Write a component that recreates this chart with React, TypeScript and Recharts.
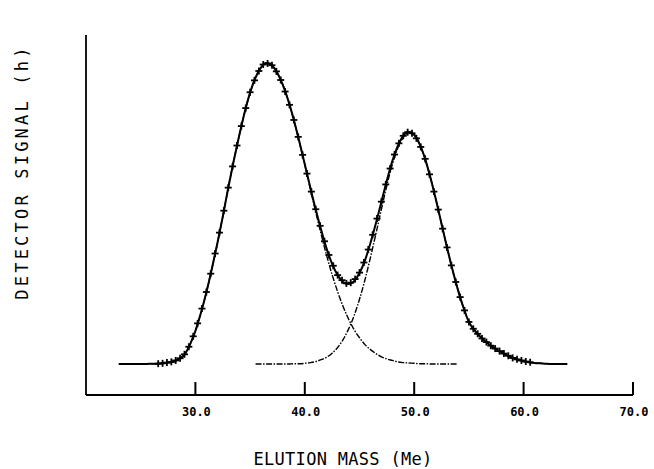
import React from "react";
import { ComposedChart, Line, Scatter, XAxis, YAxis, Label } from "recharts";

// Elution profile: measured points (+), fitted curve and the two component peaks.

const X_TICKS = [20, 22, 24, 26, 28, 30, 32, 34, 36, 38, 40, 42, 44, 46, 48, 50, 52, 54, 56, 58, 60, 62, 64, 66, 68, 70];
const X_MAJOR_TICKS = [30, 40, 50, 60, 70];
const X_LABELS = ["30.0", "40.0", "50.0", "60.0", "70.0"];

const Y_TICKS = [-0.05, 0, 0.05, 0.1, 0.15, 0.2, 0.25, 0.3, 0.35, 0.4, 0.45, 0.5, 0.55, 0.6, 0.65, 0.7, 0.75, 0.8, 0.85, 0.9, 0.95];
const Y_MAJOR_TICKS = [0.2, 0.5, 0.8];
const Y_LABEL_VALUES = [0.95, 0.8, 0.5, 0.2, -0.05];
const Y_LABELS = ["+1.10", "+.80", "+.50", "+.20", "-.10"];

// fitted curve grid
const FIT_X = [
  23, 23.5, 24, 24.5, 25, 25.5, 26, 26.5, 27, 27.5, 28, 28.5, 29, 29.5, 30, 30.5,
  31, 31.5, 32, 32.5, 33, 33.5, 34, 34.5, 35, 35.5, 36, 36.5, 37, 37.5, 38, 38.5,
  39, 39.5, 40, 40.5, 41, 41.5, 42, 42.5, 43, 43.5, 44, 44.5, 45, 45.5, 46, 46.5,
  47, 47.5, 48, 48.5, 49, 49.5, 50, 50.5, 51, 51.5, 52, 52.5, 53, 53.5, 54, 54.5,
  55, 55.5, 56, 56.5, 57, 57.5, 58, 58.5, 59, 59.5, 60, 60.5, 61, 61.5, 62, 62.5,
  63, 63.5, 64,
];
const FIT_Y = [
  0.036, 0.036, 0.036, 0.036, 0.036, 0.036, 0.037, 0.037, 0.038, 0.040, 0.043, 0.050, 0.062, 0.090, 0.128, 0.178,
  0.235, 0.300, 0.370, 0.445, 0.525, 0.600, 0.670, 0.735, 0.790, 0.832, 0.860, 0.872, 0.865, 0.844, 0.811, 0.767,
  0.714, 0.654, 0.591, 0.527, 0.465, 0.408, 0.356, 0.314, 0.283, 0.264, 0.258, 0.266, 0.289, 0.324, 0.372, 0.427,
  0.486, 0.546, 0.600, 0.642, 0.670, 0.681, 0.673, 0.647, 0.606, 0.552, 0.491, 0.425, 0.360, 0.298, 0.242, 0.193,
  0.153, 0.130, 0.113, 0.099, 0.087, 0.077, 0.068, 0.060, 0.053, 0.048, 0.044, 0.041, 0.039, 0.038, 0.037, 0.036,
  0.036, 0.036, 0.036,
];

// component 1: 23.0 .. 54.0
const PEAK1_Y = [
  0.036, 0.036, 0.036, 0.036, 0.036, 0.036, 0.037, 0.037, 0.038, 0.040, 0.043, 0.050, 0.062, 0.090, 0.128, 0.178,
  0.235, 0.300, 0.370, 0.445, 0.525, 0.600, 0.670, 0.735, 0.790, 0.832, 0.860, 0.872, 0.865, 0.844, 0.811, 0.767,
  0.713, 0.653, 0.589, 0.523, 0.458, 0.396, 0.337, 0.284, 0.237, 0.196, 0.161, 0.132, 0.109, 0.090, 0.076, 0.065,
  0.056, 0.050, 0.046, 0.042, 0.040, 0.039, 0.038, 0.037, 0.037, 0.036, 0.036, 0.036, 0.036, 0.036, 0.036,
];

// component 2: 35.5 .. 64.0
const PEAK2_Y = [
  0.036, 0.036, 0.036, 0.036, 0.036, 0.036, 0.036, 0.037, 0.037,
  0.038, 0.040, 0.043, 0.048, 0.055, 0.066, 0.082, 0.104, 0.133, 0.170,
  0.216, 0.270, 0.332, 0.398, 0.466, 0.532, 0.590, 0.636, 0.666, 0.678,
  0.671, 0.646, 0.605, 0.552, 0.491, 0.425, 0.360, 0.298, 0.242, 0.193,
  0.153, 0.130, 0.113, 0.099, 0.087, 0.077, 0.068, 0.060, 0.053, 0.048,
  0.044, 0.041, 0.039, 0.038, 0.037, 0.036, 0.036, 0.036, 0.036,
];

// measured detector signal
const MEAS_X = [
  26.6, 27.0, 27.4, 27.8, 28.2, 28.6, 29.0, 29.4, 29.8, 30.2, 30.6, 31.0, 31.4, 31.8, 32.2, 32.6,
  33.0, 33.4, 33.8, 34.2, 34.6, 35.0, 35.4, 35.8, 36.2, 36.6, 37.0, 37.4, 37.8, 38.2, 38.6, 39.0,
  39.4, 39.8, 40.2, 40.6, 41.0, 41.4, 41.8, 42.2, 42.6, 43.0, 43.4, 43.8, 44.2, 44.6, 45.0, 45.4,
  45.8, 46.2, 46.6, 47.0, 47.4, 47.8, 48.2, 48.6, 49.0, 49.4, 49.8, 50.2, 50.6, 51.0, 51.4, 51.8,
  52.2, 52.6, 53.0, 53.4, 53.8, 54.2, 54.6, 55.0, 55.4, 55.8, 56.2, 56.6, 57.0, 57.4, 57.8, 58.2,
  58.6, 59.0, 59.4, 59.8, 60.2, 60.6,
];
const MEAS_Y = [
  0.037, 0.038, 0.040, 0.042, 0.046, 0.052, 0.063, 0.084, 0.113, 0.149, 0.190, 0.236, 0.287, 0.343, 0.401, 0.462,
  0.526, 0.585, 0.643, 0.697, 0.747, 0.791, 0.824, 0.850, 0.868, 0.871, 0.866, 0.849, 0.825, 0.793, 0.756, 0.714,
  0.667, 0.617, 0.565, 0.515, 0.466, 0.420, 0.377, 0.339, 0.309, 0.283, 0.269, 0.260, 0.262, 0.272, 0.290, 0.318,
  0.354, 0.395, 0.440, 0.487, 0.535, 0.579, 0.618, 0.649, 0.670, 0.680, 0.677, 0.663, 0.639, 0.606, 0.563, 0.515,
  0.465, 0.412, 0.360, 0.310, 0.264, 0.222, 0.185, 0.153, 0.134, 0.120, 0.107, 0.097, 0.087, 0.079, 0.072, 0.065,
  0.059, 0.053, 0.049, 0.046, 0.043, 0.041,
];

const fitData = FIT_X.map((x, i) => ({ x, y: FIT_Y[i] }));
const peak1Data = FIT_X.slice(0, PEAK1_Y.length).map((x, i) => ({ x, y: PEAK1_Y[i] }));
const peak2Data = FIT_X.slice(FIT_X.length - PEAK2_Y.length).map((x, i) => ({ x, y: PEAK2_Y[i] }));
const measData = MEAS_X.map((x, i) => ({ x, y: MEAS_Y[i] }));

const MONO = "'DejaVu Sans Mono', 'Liberation Mono', monospace";
const INK = "#000";
const TICK_FONT = { fontFamily: MONO, fontSize: 12, fontWeight: 700 };
const MAJOR_LEN = 13;
const MINOR_LEN = 7;

// labels under the major x ticks; tickSize is negative so ticks point inward,
// the label is pushed back below the axis line
function XLabelTick({ x, y, payload }: any) {
  const li = X_MAJOR_TICKS.indexOf(payload.value);
  if (li < 0) return <g />;
  return (
    <text x={x + 1} y={y + MAJOR_LEN + 21} textAnchor="middle" fill={INK} style={TICK_FONT}>
      {X_LABELS[li]}
    </text>
  );
}

function YLabelTick({ y, payload }: any) {
  const v = payload.value;
  const li = Y_LABEL_VALUES.findIndex((m) => Math.abs(m - v) < 1e-6);
  if (li < 0) return <g />;
  const isEnd = li === 0 || li === Y_LABEL_VALUES.length - 1;
  const lx = 75;
  const ly = isEnd ? y + 1 : y;
  return (
    <text x={lx} y={ly} transform={`rotate(-90, ${lx}, ${ly})`}
      textAnchor={isEnd ? "start" : "middle"} fill={INK} style={TICK_FONT}>
      {Y_LABELS[li]}
    </text>
  );
}

function PlusMark({ cx, cy }: any) {
  if (cx == null || cy == null) return <g />;
  return (
    <g stroke={INK} strokeWidth={1.8}>
      <line x1={cx - 3.5} x2={cx + 3.5} y1={cy} y2={cy} />
      <line x1={cx} x2={cx} y1={cy - 3.5} y2={cy + 3.5} />
    </g>
  );
}

function YTitle() {
  return (
    <text x={28} y={172} transform="rotate(-90, 28, 172)" textAnchor="middle" fill={INK}
      style={{ fontFamily: MONO, fontSize: 17, letterSpacing: 3.2 }}>
      DETECTOR SIGNAL (h)
    </text>
  );
}

function XTitle() {
  return (
    <text x={343} y={465} textAnchor="middle" fill={INK}
      style={{ fontFamily: MONO, fontSize: 17, letterSpacing: 0.3 }}>
      ELUTION MASS (Me)
    </text>
  );
}

const TICK_LINE = { stroke: INK, strokeWidth: 2 };

export default function App() {
  return (
    <div style={{ position: "absolute", left: 0, top: 0, width: 654, height: 469, background: "#fff" }}>
      <ComposedChart width={654} height={469} margin={{ top: 35, right: 21, left: 46, bottom: 44 }}>
        {/* minor ticks: zero-size axes lying on the plot edges */}
        <XAxis
          xAxisId="minor" dataKey="x" type="number" domain={[20, 70]} ticks={X_TICKS.slice(1)}
          allowDataOverflow height={0} tickSize={-MINOR_LEN} tickMargin={0} interval={0}
          axisLine={false} tickLine={TICK_LINE} tick={false}
        />
        <YAxis
          yAxisId="minor" dataKey="y" type="number" domain={[-0.05, 0.95]} ticks={Y_TICKS.slice(1)}
          allowDataOverflow width={0} tickSize={-MINOR_LEN} tickMargin={0} interval={0}
          axisLine={false} tickLine={TICK_LINE} tick={false}
        />
        {/* main axes: major ticks and labels */}
        <XAxis
          dataKey="x" type="number" domain={[20, 70]} ticks={X_MAJOR_TICKS} allowDataOverflow
          height={30} tickSize={-MAJOR_LEN} tickMargin={0} interval={0}
          axisLine={{ stroke: INK, strokeWidth: 1.8 }} tickLine={TICK_LINE} tick={<XLabelTick />}
        >
          <Label content={<XTitle />} />
        </XAxis>
        <YAxis
          dataKey="y" type="number" domain={[-0.05, 0.95]} ticks={Y_MAJOR_TICKS} allowDataOverflow
          width={40} tickSize={-MAJOR_LEN} tickMargin={0} interval={0}
          axisLine={{ stroke: INK, strokeWidth: 1.8 }} tickLine={TICK_LINE} tick={false}
        >
          <Label content={<YTitle />} />
        </YAxis>
        <YAxis
          yAxisId="labels" dataKey="y" type="number" domain={[-0.05, 0.95]} ticks={Y_LABEL_VALUES}
          allowDataOverflow width={0} tickSize={0} tickMargin={0} interval={0}
          axisLine={false} tickLine={false} tick={<YLabelTick />}
        />
        <Line data={peak1Data} dataKey="y" type="monotone" stroke={INK} strokeWidth={1.4}
          strokeDasharray="6 1.5 1.5 1.5" dot={false} isAnimationActive={false} />
        <Line data={peak2Data} dataKey="y" type="monotone" stroke={INK} strokeWidth={1.4}
          strokeDasharray="6 1.5 1.5 1.5" dot={false} isAnimationActive={false} />
        <Line data={fitData} dataKey="y" type="monotone" stroke={INK} strokeWidth={2}
          dot={false} isAnimationActive={false} />
        <Scatter data={measData} dataKey="y" shape={<PlusMark />} isAnimationActive={false} />
      </ComposedChart>
    </div>
  );
}
